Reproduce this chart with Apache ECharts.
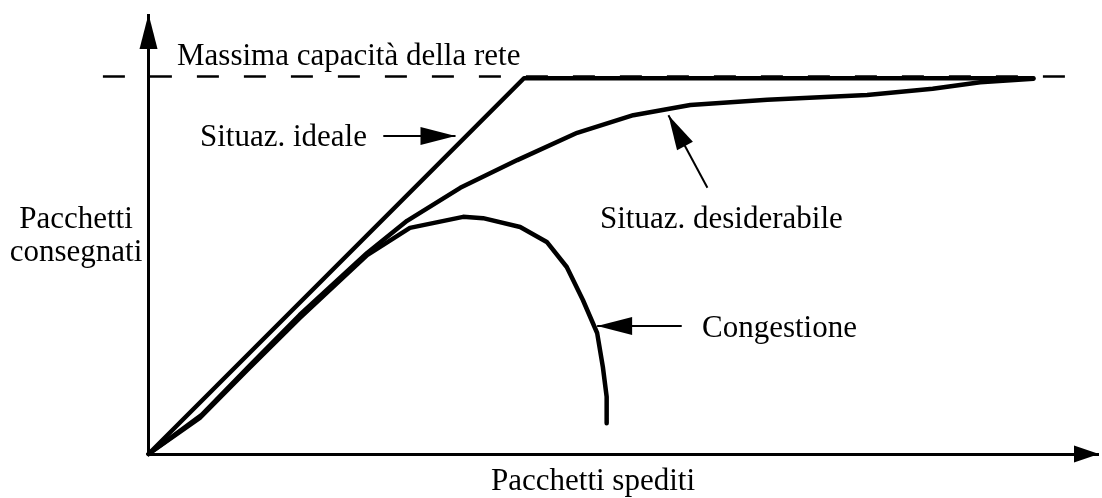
<!DOCTYPE html>
<html>
<head>
<meta charset="utf-8">
<script src="https://cdn.jsdelivr.net/npm/echarts@6.0.0/dist/echarts.min.js"></script>
<style>
    html, body { margin: 0; padding: 0; background: #fff; }
    #chart { width: 1102px; height: 498px; }
</style>
</head>
<body>
<div id="chart"></div>
<script>
    // curve points [pacchetti spediti, pacchetti consegnati], arbitrary units
    var ideale = [[0, 0], [39.5, 85.4], [93.1, 85.4]];
    var desiderabile = [[0, 0], [5.6, 8.9], [10.7, 20.2], [15.9, 31.6], [23.0, 45.7], [27.2, 53.0],
        [32.8, 60.5], [38.8, 66.8], [45.1, 73.0], [51.0, 77.0], [57.0, 79.3], [65.1, 80.5],
        [75.6, 81.6], [82.5, 83.0], [87.5, 84.5], [93.1, 85.3]];
    var congestione = [[0, 0], [5.4, 8.2], [10.4, 19.1], [15.9, 30.9], [23.0, 45.2], [27.5, 51.4],
        [33.1, 53.9], [35.2, 53.6], [39.1, 51.6], [41.9, 48.2], [44.0, 42.5], [45.7, 35.0],
        [47.2, 27.5], [47.8, 19.8], [48.2, 13.0], [48.2, 7.0]];
    var capacita = 85.8;
    var capacitaDa = -4.8, capacitaA = 99.0;
    // annotation arrows: [from, to]
    var frecciaIdeale = [[24.7, 72.3], [32.3, 72.3]];
    var frecciaDesiderabile = [[58.8, 60.5], [54.7, 77.0]];
    var frecciaCongestione = [[56.1, 29.1], [47.2, 29.1]];

    var font = '31px "Liberation Serif", "DejaVu Serif", serif';

    function arrow(pts, size, width) {
        return [
            { coord: pts[0], symbol: 'none', symbolSize: 0 },
            { coord: pts[1], symbol: 'triangle', symbolSize: size, symbolOffset: [0, size[1] / 2],
              lineStyle: { width: width } }
        ];
    }

    function curve(name, data) {
        return {
            name: name, type: 'line', data: data, showSymbol: false, symbol: 'none',
            silent: true, clip: false,
            lineStyle: { color: '#000', width: 4.5, cap: 'round', join: 'round' }
        };
    }

    var myChart = echarts.init(document.getElementById('chart'));
    var option = {
        animation: false,
        grid: { left: 101, right: 3, top: 14, bottom: 44 },
        xAxis: {
            type: 'value', min: -5, max: 100,
            axisLine: { show: false }, axisTick: { show: false },
            axisLabel: { show: false }, splitLine: { show: false }
        },
        yAxis: {
            type: 'value', min: 0, max: 100,
            axisLine: { show: false }, axisTick: { show: false },
            axisLabel: { show: false }, splitLine: { show: false }
        },
        series: [
            curve('Situaz. ideale', ideale),
            curve('Situaz. desiderabile', desiderabile),
            curve('Congestione', congestione),
            {
                type: 'line', data: [], silent: true, clip: false,
                markLine: {
                    silent: true, animation: false,
                    label: { show: false },
                    emphasis: { disabled: true },
                    lineStyle: { color: '#000', type: 'solid' },
                    data: [
                        arrow([[0, 0], [100, 0]], [17, 25], 3),
                        arrow([[0, 0], [0, 100]], [18, 35], 3),
                        arrow(frecciaIdeale, [18, 35], 2),
                        arrow(frecciaDesiderabile, [18, 35], 2),
                        arrow(frecciaCongestione, [18, 35], 2),
                        [
                            { coord: [capacitaDa, capacita], symbol: 'none' },
                            { coord: [capacitaA, capacita], symbol: 'none',
                              lineStyle: { type: [22, 25], width: 2.5 } }
                        ]
                    ]
                }
            }
        ],
        graphic: [
            { type: 'text', x: 177, y: 57, style: { text: 'Massima capacità della rete', font: font, fill: '#000', align: 'left', verticalAlign: 'middle' } },
            { type: 'text', x: 200, y: 138, style: { text: 'Situaz. ideale', font: font, fill: '#000', align: 'left', verticalAlign: 'middle' } },
            { type: 'text', x: 600, y: 220, style: { text: 'Situaz. desiderabile', font: font, fill: '#000', align: 'left', verticalAlign: 'middle' } },
            { type: 'text', x: 702, y: 329, style: { text: 'Congestione', font: font, fill: '#000', align: 'left', verticalAlign: 'middle' } },
            { type: 'text', x: 593, y: 482, style: { text: 'Pacchetti spediti', font: font, fill: '#000', align: 'center', verticalAlign: 'middle' } },
            { type: 'text', x: 76, y: 220, style: { text: 'Pacchetti', font: font, fill: '#000', align: 'center', verticalAlign: 'middle' } },
            { type: 'text', x: 76, y: 253, style: { text: 'consegnati', font: font, fill: '#000', align: 'center', verticalAlign: 'middle' } }
        ]
    };
    myChart.setOption(option, true);
</script>
</body>
</html>
